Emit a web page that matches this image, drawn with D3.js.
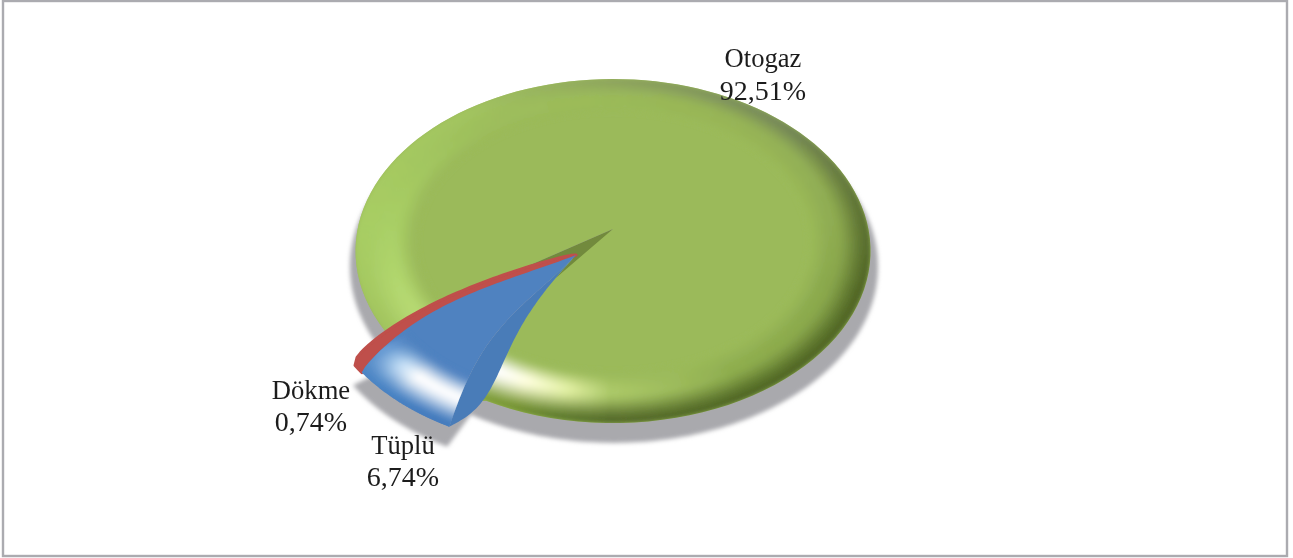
<!DOCTYPE html>
<html>
<head>
<meta charset="utf-8">
<script src="https://cdn.jsdelivr.net/npm/d3@7"></script>
<style>
  html, body { margin: 0; padding: 0; background: #fff; }
  svg { display: block; }
  text { font-family: "Liberation Serif", serif; font-size: 26.6px; fill: #1c1c1c; text-anchor: middle; }
  text.val { font-size: 28px; }
</style>
</head>
<body>
<script>
// Data
const categories = ["Otogaz", "Tüplü", "Dökme"];
const shares = [92.51, 6.74, 0.74];
const shareLabels = ["92,51%", "6,74%", "0,74%"];

const width = 1293;
const height = 558;

// Where the labels sit (name baseline, value baseline)
const labelSpots = {
  "Otogaz": { x: 763, y1: 67, y2: 100 },
  "Tüplü": { x: 403, y1: 454, y2: 486 },
  "Dökme": { x: 311, y1: 399, y2: 431 }
};

// Pie geometry: a disc seen in perspective
const deg = Math.PI / 180;
const cx = 613, cy = 229;
const rxUnit = 255.4, ryUnit = 169.2, persp = 0.128;
const explode = [-37, 26];
const startDeg = 233;

function project(theta, r, ox = 0, oy = 0, k = 1) {
  const u = r * Math.sin(theta), v = r * Math.cos(theta);
  const d = 1 + persp * v;
  return [cx + ox + k * rxUnit * u / d, cy + oy - k * ryUnit * v / d];
}

const pie = d3.pie().sort(null)
  .startAngle(startDeg * deg)
  .endAngle(startDeg * deg + 2 * Math.PI);
const arcs = pie(shares);
const [otogaz, tuplu, dokme] = arcs;

const line = d3.line();
const smooth = d3.line().curve(d3.curveCatmullRom);

let svg = d3.select("body").append("svg")
  .attr("width", width)
  .attr("height", height);

// Frame
svg.append("rect")
  .attr("x", 3).attr("y", 1)
  .attr("width", 1284).attr("height", 555)
  .attr("fill", "#fff")
  .attr("stroke", "#ababb0")
  .attr("stroke-width", 2.4);

let defs = svg.append("defs");
function blur(id, amount) {
  defs.append("filter").attr("id", id)
    .attr("x", "-5%").attr("y", "-5%").attr("width", "110%").attr("height", "110%")
    .append("feGaussianBlur").attr("stdDeviation", amount);
}
blur("soft", 2.2);
blur("shade", 2.2);
blur("jpeg", 0.6);
blur("ink", 0.3);

// Helpers for outlines
function rimPoints(a0, a1, ox, oy, k) {
  return d3.range(0, 1.0001, 1 / 120).map((s) => project(a0 + (a1 - a0) * s, 1, ox, oy, k));
}

// A radial edge of a pulled-out slice, bowed to the side of its straight line
// (positive bow goes right and down)
const hub = project(0, 0, explode[0], explode[1]);
function bowedEdge(angle, bow) {
  const tip = project(angle, 1, explode[0], explode[1]);
  const len = Math.hypot(tip[0] - hub[0], tip[1] - hub[1]);
  const perp = [(tip[1] - hub[1]) / len, (hub[0] - tip[0]) / len];
  return d3.range(0, 1.0001, 0.02).map((r) => {
    const p = project(angle, r, explode[0], explode[1]);
    const b = bow(Math.min(r, 1));
    return [p[0] + perp[0] * b, p[1] + perp[1] * b];
  });
}
const faceBow = (r) => -18 * Math.sin(Math.PI * Math.pow(r, 1.3));
const wallBow = (r) => 15 * Math.sin(Math.PI * Math.pow(r, 3)) - 6 * Math.sin(Math.PI * r);
const greenBow = (r) => wallBow(r) - 3;
const blueBow = (r) => -19 * Math.pow(Math.sin(Math.PI * Math.pow(r, 1.5)), 0.75);
const redBow = (r) => -20 * Math.pow(Math.sin(Math.PI * Math.pow(r, 1.5)), 0.5);

const faceEdge = bowedEdge(tuplu.startAngle, faceBow);
const wallEdge = bowedEdge(tuplu.startAngle, wallBow);
const greenEdge = bowedEdge(tuplu.startAngle, greenBow);
const blueTop = bowedEdge(tuplu.endAngle, blueBow);
const redTop = bowedEdge(dokme.endAngle, redBow);

// Outlines
const gapCorner = redTop[38];
const greenOutline = [project(0, 0), gapCorner]
  .concat(rimPoints(otogaz.startAngle + 3 * deg, otogaz.endAngle))
  .concat(greenEdge.filter((p, i) => i > 5 && i < 43).reverse());
const blueOutline = blueTop
  .concat(rimPoints(tuplu.endAngle, tuplu.startAngle, explode[0], explode[1]))
  .concat(faceEdge.slice().reverse());
const redOutline = redTop
  .concat(rimPoints(dokme.endAngle, dokme.startAngle, explode[0], explode[1]));
const wallOutline = faceEdge.concat(wallEdge.slice().reverse());
const holeOutline = [project(0, 0), gapCorner, hub, wallEdge[8]];

// Drop shadow
let shadow = svg.append("g").attr("filter", "url(#soft)").attr("fill", "#a9a9ad");
const shadowRim = d3.range(0, 360, 1).map((d) => project(d * deg, 1, 1, 15, 1.025));
shadow.append("path").attr("d", line(shadowRim) + "Z");
shadow.append("path").attr("d", line([project(0, 0, explode[0] - 2, explode[1] + 20)]
  .concat(rimPoints(dokme.endAngle, tuplu.startAngle, explode[0] - 2, explode[1] + 20))) + "Z");

// Rim colours around the disc, read at the rim's outer edge and at its middle
const angleStops = [0, 45, 80, 110, 150, 180, 190, 200, 207, 218, 235, 270, 320, 360];
const greenEdgeColor = d3.scaleLinear().domain(angleStops).clamp(true).range([
  "#8da35e", "#75875a", "#5f7336", "#4f6425", "#4f6625", "#54692a", "#5d7a2c", "#73922f", "#809f3a",
  "#8fb04a", "#a2c45f", "#a8ce64", "#a3c560", "#8da35e"]);
const greenMidColor = d3.scaleLinear().domain(angleStops).clamp(true).range([
  "#9bba5a", "#96b358", "#91ae53", "#8aa84d", "#8fae4f", "#acc969", "#e2f0a4", "#ffffe0", "#ffffff",
  "#f4ffd8", "#b8db74", "#a9d066", "#9ebf5b", "#9bba5a"]);
const blueAngles = [200, 207, 212, 220, 226, 232];
const blueEdgeColor = d3.scaleLinear().domain(blueAngles).clamp(true)
  .range(["#4a7ebc", "#3f78bc", "#4079bd", "#4580c2", "#4b85c5", "#4f86c4"]);
const blueMidColor = d3.scaleLinear().domain(blueAngles).clamp(true)
  .range(["#b5d5f2", "#ffffff", "#ffffff", "#ffffff", "#c0dcf4", "#6a9cd4"]);

function rimColor(base, mid, edge, t, midAt) {
  if (t < midAt) {
    const s = t / midAt;
    return d3.interpolateRgb(base, mid)(s * s * (3 - 2 * s));
  }
  const s = (t - midAt) / (1 - midAt);
  return d3.interpolateRgb(mid, edge)(s * s * (3 - 2 * s));
}

function drawRim(group, a0, a1, r0, midAt, base, midScale, edgeScale, ox, oy) {
  const stepA = 1.5 * deg, steps = 20;
  for (let a = a0; a < a1; a += stepA) {
    const d = ((a / deg) % 360 + 360) % 360;
    for (let i = 0; i < steps; i++) {
      const ra = r0 + (1 - r0) * i / steps;
      const rb = r0 + (1 - r0) * (i + 1) / steps;
      const c = rimColor(base, midScale(d), edgeScale(d), (i + 0.5) / steps, midAt);
      group.append("path")
        .attr("d", line([
          project(a, ra, ox, oy), project(a + stepA, ra, ox, oy),
          project(a + stepA, rb, ox, oy), project(a, rb, ox, oy)]) + "Z")
        .attr("fill", c).attr("stroke", c).attr("stroke-width", 0.7);
    }
  }
}

let pieGroup = svg.append("g").attr("filter", "url(#jpeg)");

// Otogaz
defs.append("clipPath").attr("id", "greenClip").append("path").attr("d", line(greenOutline) + "Z");
pieGroup.append("path").attr("d", line(greenOutline) + "Z").attr("fill", "#9bba5a");
let greenRim = pieGroup.append("g").attr("clip-path", "url(#greenClip)")
  .append("g").attr("filter", "url(#shade)");
drawRim(greenRim, otogaz.startAngle - 2 * deg, otogaz.endAngle + 8 * deg, 0.76, 0.42, "#9bba5a", greenMidColor, greenEdgeColor, 0, 0);

// Inside wall showing in the gap left by the pulled-out slices
pieGroup.append("path").attr("d", line(holeOutline) + "Z").attr("fill", "#728a3c");

// Tüplü side wall
pieGroup.append("path").attr("d", smooth(wallOutline) + "Z").attr("fill", "#4a7cb8");

// Dökme
pieGroup.append("path")
  .attr("d", line(redOutline) + "Z")
  .attr("fill", "#bf4f4b")
  .attr("stroke", "#bf4f4b").attr("stroke-width", 3).attr("stroke-linejoin", "round");

// Tüplü top face
defs.append("clipPath").attr("id", "blueClip").append("path").attr("d", line(blueOutline) + "Z");
pieGroup.append("path").attr("d", line(blueOutline) + "Z").attr("fill", "#4f82c0");
let blueRim = pieGroup.append("g").attr("clip-path", "url(#blueClip)")
  .append("g").attr("filter", "url(#shade)");
drawRim(blueRim, tuplu.startAngle - 6 * deg, tuplu.endAngle + 4 * deg, 0.76, 0.45, "#4f82c0", blueMidColor, blueEdgeColor, explode[0], explode[1]);

// Labels
let labels = svg.append("g").attr("filter", "url(#ink)");
categories.forEach((name, i) => {
  const spot = labelSpots[name];
  labels.append("text").attr("x", spot.x).attr("y", spot.y1).text(name);
  labels.append("text").attr("class", "val").attr("x", spot.x).attr("y", spot.y2).text(shareLabels[i]);
});
</script>
</body>
</html>
